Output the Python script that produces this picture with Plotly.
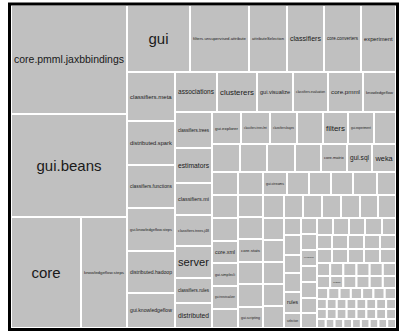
import plotly.graph_objects as go

# ---------------- data: package names and sizes (tile areas) ----------------
left_names = ["core.pmml.jaxbbindings", "gui.beans"]
left_sizes = [12644, 11948]
pair_names = ["core", "knowledgeflow.steps"]
pair_sizes = [7770, 5106]

top_names = ["gui", "filters.unsupervised.attribute", "attributeSelection", "classifiers",
             "core.converters", "experiment"]
top_sizes = [4221, 3953, 2546, 2479, 2479, 2345]

col2_names = ["classifiers.meta", "distributed.spark", "classifiers.functions",
              "gui.knowledgeflow.steps", "distributed.hadoop", "gui.knowledgeflow"]
col2_sizes = [2352, 2112, 2064, 2064, 2016, 1680]

row2_names = ["associations", "clusterers", "gui.visualize", "classifiers.evaluation",
              "core.pmml", "knowledgeflow"]
row2_sizes = [1680, 1600, 1440, 1400, 1400, 1320]

col3_names = ["classifiers.trees", "estimators", "classifiers.mi", "classifiers.trees.j48",
              "server", "classifiers.rules", "distributed"]
col3_sizes = [1332, 1295, 1184, 1147, 1184, 925, 925]

rowF_names = ["gui.explorer", "classifiers.trees.lmt", "classifiers.bayes", "", "filters",
              "gui.experiment", ""]
rowF_sizes = [928, 928, 864, 832, 800, 832, 704]
rowG_names = ["", "", "", "", "core.matrix", "gui.sql", "weka"]
rowG_sizes = [784, 756, 784, 728, 728, 700, 672]
rowH_names = ["", "", "gui.streams", "", "", "", "", ""]
rowH_sizes = [598, 575, 552, 506, 506, 506, 552, 437]

colJ_names = ["", "", "core.xml", "gui.simplecli", "gui.treevisualizer", ""]
colJ_sizes = [598, 598, 572, 598, 598, 494]
colK_names = ["", "", "core.stats", "", "", "gui.scripting"]
colK_sizes = [550, 550, 575, 550, 575, 525]

rowL_names = ["", "", "", "", "", "", ""]
rowL_sizes = [483, 437, 437, 437, 437, 414, 414]

colM_names = ["", "", "", "", ""]
colM_sizes = [462, 462, 462, 462, 462]
colN_names = ["", "", "", "", "rules", "selection"]
colN_sizes = [289, 340, 306, 323, 357, 255]
colO_names = ["", "", "core.neighboursearch", "", "", "", ""]
colO_sizes = [256, 256, 256, 256, 256, 240, 240]

tail_sizes = [
    [272, 272, 272, 289, 238],
    [210, 224, 224, 224, 224],
    [210, 224, 224, 224, 224],
    [171, 171, 171, 171, 171, 171],
    [158, 158, 158, 158, 158, 158],
    [124, 124, 124, 124, 124, 124, 124],
    [99, 99, 99, 99, 99, 99, 99, 99],
    [99, 99, 99, 99, 99, 99, 99, 99],
    [79, 79, 79, 79, 79, 79, 79, 79, 79],
]
tail_names = [["python" if (r == 4 and c == 1) else "" for c in range(len(row))]
              for r, row in enumerate(tail_sizes)]

# ---------------- build the hierarchy (slice / dice alternate by depth) ----------------
ids, parents, texts, values = [], [], [], []


def add(node_id, parent, text, value):
    ids.append(node_id)
    parents.append(parent)
    texts.append(text)
    values.append(value)


def group(node_id, parent):
    add(node_id, parent, "", 0)
    return node_id


counter = [0]


def leaves(names, sizes, parent):
    for n, s in zip(names, sizes):
        counter[0] += 1
        add("pkg%d" % counter[0], parent, n, s)


root = group("weka", "")
gA = group("A", root)
leaves(left_names, left_sizes, gA)
gPair = group("A2", gA)
leaves(pair_names, pair_sizes, gPair)
r1 = group("R1", root)
gB = group("B", r1)
leaves(top_names, top_sizes, gB)
r2 = group("R2", r1)
gC = group("C", r2)
leaves(col2_names, col2_sizes, gC)
r3 = group("R3", r2)
gD = group("D", r3)
leaves(row2_names, row2_sizes, gD)
r4 = group("R4", r3)
gE = group("E", r4)
leaves(col3_names, col3_sizes, gE)
r5 = group("R5", r4)
for gid, nm, sz in [("F", rowF_names, rowF_sizes), ("G", rowG_names, rowG_sizes),
                    ("H", rowH_names, rowH_sizes)]:
    leaves(nm, sz, group(gid, r5))
r8 = group("R8", r5)
leaves(colJ_names, colJ_sizes, group("J", r8))
leaves(colK_names, colK_sizes, group("K", r8))
r10 = group("R10", r8)
leaves(rowL_names, rowL_sizes, group("L", r10))
r11 = group("R11", r10)
leaves(colM_names, colM_sizes, group("M", r11))
leaves(colN_names, colN_sizes, group("N", r11))
leaves(colO_names, colO_sizes, group("O", r11))
r12 = group("R12", r11)
for i, (nm, sz) in enumerate(zip(tail_names, tail_sizes)):
    leaves(nm, sz, group("T%d" % i, r12))

GREY = "#c0c0c0"
fig = go.Figure(go.Treemap(
    ids=ids,
    labels=ids,
    parents=parents,
    values=values,
    text=texts,
    branchvalues="remainder",
    sort=False,
    texttemplate="%{text}",
    textposition="middle center",
    textfont=dict(family="Liberation Sans, Arial, sans-serif", size=15, color="#1a1a1a"),
    marker=dict(colors=[GREY] * len(ids), line=dict(color="white", width=2),
                pad=dict(t=0, l=0, r=0, b=0)),
    tiling=dict(packing="slice-dice", pad=0),
    pathbar=dict(visible=False),
    hoverinfo="text",
))

W, H = 385.0, 323.0
fig.update_layout(
    width=407, height=335,
    margin=dict(l=11, r=11, t=5, b=7),
    paper_bgcolor="white",
    plot_bgcolor="white",
    shapes=[dict(type="rect", xref="paper", yref="paper",
                 x0=-1.5 / W, x1=1 + 1.5 / W, y0=-1.5 / H, y1=1 + 1.0 / H,
                 line=dict(color="black", width=3), fillcolor="rgba(0,0,0,0)")],
)

fig.write_html("out.html",
               config={"displayModeBar": False},
               post_script="document.body.style.margin='0';document.body.style.overflow='hidden';")
